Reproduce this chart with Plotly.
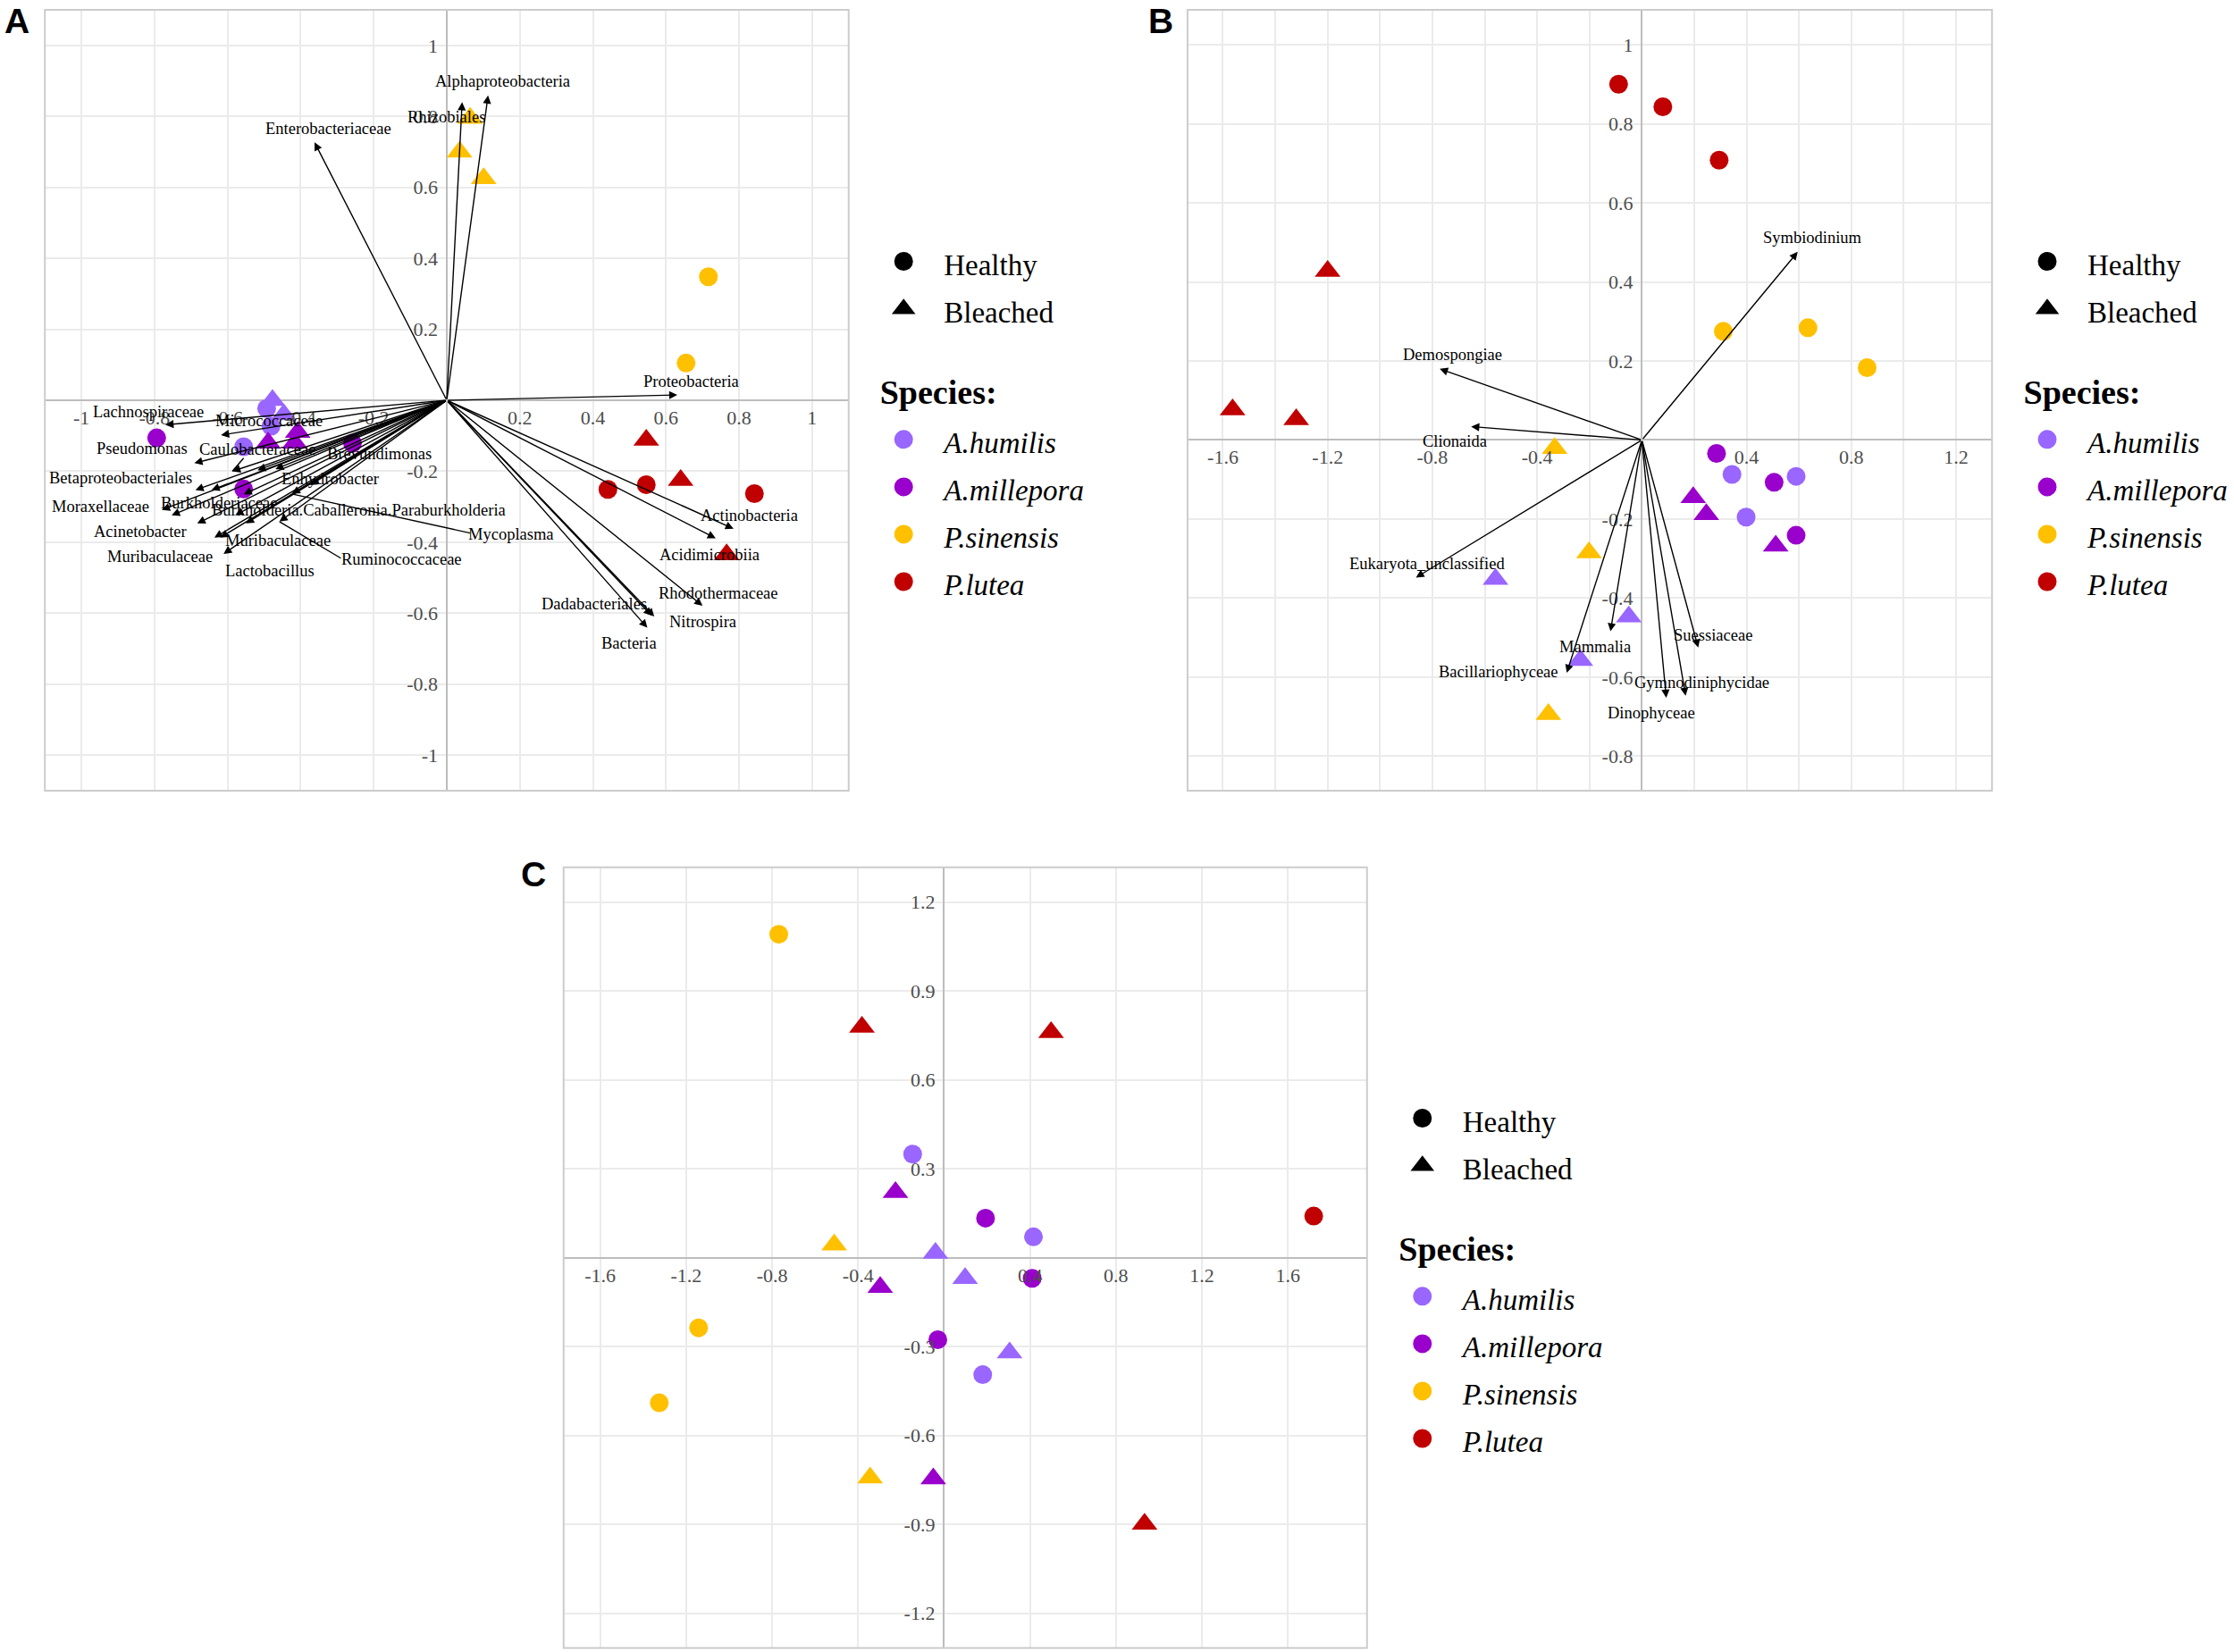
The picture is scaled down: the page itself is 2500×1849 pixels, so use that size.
import plotly.graph_objects as go

W, H = 2500, 1849

species_names = ["A.humilis", "A.millepora", "P.sinensis", "P.lutea"]
species_colors = ["#9966FF", "#9900CC", "#FFC000", "#C00000"]
status_names = ["Healthy", "Bleached"]
status_symbols = ["circle", "triangle-up"]

# ---------------- Panel A (bacteria) ----------------
A_species = ["A.humilis"] * 5 + ["A.millepora"] * 6 + ["P.sinensis"] * 5 + ["P.lutea"] * 6
A_status = (["Healthy"] * 3 + ["Bleached"] * 2 + ["Healthy"] * 3 + ["Bleached"] * 3 +
            ["Healthy"] * 2 + ["Bleached"] * 3 + ["Healthy"] * 3 + ["Bleached"] * 3)
A_x = [-0.493, -0.481, -0.556, -0.477, -0.446,
       -0.794, -0.258, -0.556, -0.408, -0.489, -0.416,
       0.716, 0.655, 0.064, 0.035, 0.101,
       0.441, 0.546, 0.842, 0.546, 0.640, 0.766]
A_y = [-0.023, -0.073, -0.131, 0.000, -0.040,
       -0.106, -0.121, -0.250, -0.090, -0.120, -0.120,
       0.348, 0.105, 0.795, 0.700, 0.625,
       -0.251, -0.238, -0.263, -0.112, -0.225, -0.435]

A_arrow_names = ["Proteobacteria", "Alphaproteobacteria", "Rhizobiales", "Enterobacteriaceae",
                 "Actinobacteria", "Acidimicrobiia", "Rhodothermaceae", "Nitrospira",
                 "Dadabacteriales", "Bacteria", "Lachnospiraceae", "Micrococcaceae",
                 "Pseudomonas", "Caulobacteraceae", "Brevundimonas", "Sphingomonadaceae",
                 "Betaproteobacteriales", "Moraxella", "Enhydrobacter", "Moraxellaceae",
                 "Burkholderiaceae", "Comamonadaceae",
                 "Burkholderia.Caballeronia.Paraburkholderia", "Acinetobacter",
                 "Lactobacillus", "Muribaculaceae", "Bacteroides", "Muribaculaceae",
                 "Ruminococcaceae", "Mycoplasma"]
A_arrow_x = [0.631, 0.113, 0.042, -0.362, 0.785, 0.736, 0.700, 0.568, 0.561, 0.549,
             -0.770, -0.618, -0.691, -0.587, -0.469, -0.518, -0.688, -0.644, -0.374,
             -0.780, -0.556, -0.753, -0.579, -0.683, -0.550, -0.636, -0.620, -0.611,
             -0.458, -0.424]
A_arrow_y = [0.015, 0.859, 0.840, 0.727, -0.362, -0.389, -0.579, -0.609, -0.607, -0.641,
             -0.069, -0.098, -0.177, -0.200, -0.194, -0.197, -0.253, -0.253, -0.239,
             -0.309, -0.265, -0.324, -0.324, -0.347, -0.347, -0.387, -0.387, -0.433,
             -0.342, -0.264]

A_label_text = ["Proteobacteria", "Alphaproteobacteria", "Rhizobiales", "Enterobacteriaceae",
                "Actinobacteria", "Acidimicrobiia", "Rhodothermaceae", "Nitrospira",
                "Dadabacteriales", "Bacteria", "Lachnospiraceae", "Micrococcaceae",
                "Pseudomonas", "Caulobacteraceae", "Brevundimonas", "Betaproteobacteriales",
                "Enhydrobacter", "Moraxellaceae", "Burkholderiaceae",
                "Burkholderia.Caballeronia.Paraburkholderia", "Acinetobacter",
                "Muribaculaceae", "Muribaculaceae", "Lactobacillus", "Ruminococcaceae",
                "Mycoplasma"]
A_label_x = [0.668, 0.153, 0.000, -0.325, 0.828, 0.720, 0.743, 0.700, 0.404, 0.500,
             -0.817, -0.486, -0.833, -0.519, -0.185, -0.892, -0.320, -0.948, -0.623,
             -0.242, -0.838, -0.462, -0.784, -0.485, -0.123, 0.176]
A_label_y = [0.054, 0.899, 0.798, 0.766, -0.324, -0.435, -0.543, -0.624, -0.574, -0.684,
             -0.032, -0.059, -0.137, -0.138, -0.152, -0.218, -0.222, -0.299, -0.289,
             -0.310, -0.370, -0.395, -0.440, -0.481, -0.447, -0.378]

# repel segments: label side -> arrow tip
A_seg_x0 = [-0.556, 0.064, -0.290]
A_seg_y0 = [-0.163, -0.374, -0.445]
A_seg_x1 = [-0.587, -0.424, -0.458]
A_seg_y1 = [-0.200, -0.264, -0.342]

A_xticks = [-1, -0.8, -0.6, -0.4, -0.2, 0.2, 0.4, 0.6, 0.8, 1]
A_xticktext = ["-1", "-0.8", "-0.6", "-0.4", "-0.2", "0.2", "0.4", "0.6", "0.8", "1"]
A_yticks = [-1, -0.8, -0.6, -0.4, -0.2, 0.2, 0.4, 0.6, 0.8, 1]
A_yticktext = ["-1", "-0.8", "-0.6", "-0.4", "-0.2", "0.2", "0.4", "0.6", "0.8", "1"]

# ---------------- Panel B (eukaryotes) ----------------
B_species = ["A.humilis"] * 6 + ["A.millepora"] * 6 + ["P.sinensis"] * 6 + ["P.lutea"] * 6
B_status = (["Healthy"] * 3 + ["Bleached"] * 3) * 4
B_x = [0.344, 0.589, 0.398, -0.559, -0.050, -0.235,
       0.285, 0.505, 0.589, 0.196, 0.246, 0.511,
       0.311, 0.634, 0.860, -0.333, -0.202, -0.357,
       -0.089, 0.080, 0.295, -1.200, -1.563, -1.320]
B_y = [-0.087, -0.092, -0.195, -0.352, -0.447, -0.557,
       -0.034, -0.107, -0.241, -0.145, -0.188, -0.268,
       0.275, 0.284, 0.183, -0.021, -0.285, -0.694,
       0.900, 0.843, 0.708, 0.427, 0.077, 0.052]

B_arrow_names = ["Symbiodinium", "Demospongiae", "Clionaida", "Eukaryota_unclassified",
                 "Mammalia", "Bacillariophyceae", "Suessiaceae", "Gymnodiniphycidae",
                 "Dinophyceae"]
B_arrow_x = [0.595, -0.772, -0.652, -0.863, -0.120, -0.287, 0.215, 0.167, 0.093]
B_arrow_y = [0.476, 0.180, 0.034, -0.348, -0.484, -0.589, -0.525, -0.647, -0.652]
B_label_x = [0.653, -0.722, -0.713, -0.820, -0.180, -0.548, 0.272, 0.228, 0.037]
B_label_y = [0.512, 0.215, -0.004, -0.313, -0.523, -0.586, -0.494, -0.614, -0.690]

B_xticks = [-1.6, -1.2, -0.8, -0.4, 0.4, 0.8, 1.2]
B_xticktext = ["-1.6", "-1.2", "-0.8", "-0.4", "0.4", "0.8", "1.2"]
B_xminor = [-1.4, -1.0, -0.6, -0.2, 0.2, 0.6, 1.0]
B_yticks = [-0.8, -0.6, -0.4, -0.2, 0.2, 0.4, 0.6, 0.8, 1]
B_yticktext = ["-0.8", "-0.6", "-0.4", "-0.2", "0.2", "0.4", "0.6", "0.8", "1"]

# ---------------- Panel C ----------------
C_species = ["A.humilis"] * 6 + ["A.millepora"] * 6 + ["P.sinensis"] * 5 + ["P.lutea"] * 4
C_status = ((["Healthy"] * 3 + ["Bleached"] * 3) * 2 +
            ["Healthy"] * 3 + ["Bleached"] * 2 + ["Healthy"] * 1 + ["Bleached"] * 3)
C_x = [-0.146, 0.416, 0.180, -0.040, 0.098, 0.305,
       0.193, 0.410, -0.029, -0.226, -0.297, -0.050,
       -0.769, -1.142, -1.325, -0.511, -0.344,
       1.720, -0.382, 0.498, 0.933]
C_y = [0.349, 0.070, -0.395, 0.015, -0.070, -0.321,
       0.133, -0.070, -0.277, 0.220, -0.100, -0.746,
       1.091, -0.237, -0.490, 0.043, -0.743,
       0.140, 0.778, 0.760, -0.899]

C_xticks = [-1.6, -1.2, -0.8, -0.4, 0.4, 0.8, 1.2, 1.6]
C_xticktext = ["-1.6", "-1.2", "-0.8", "-0.4", "0.4", "0.8", "1.2", "1.6"]
C_yticks = [-1.2, -0.9, -0.6, -0.3, 0.3, 0.6, 0.9, 1.2]
C_yticktext = ["-1.2", "-0.9", "-0.6", "-0.3", "0.3", "0.6", "0.9", "1.2"]

# ---------------- layout geometry ----------------
SERIF = "Liberation Serif"
GRID = "#EBEBEB"
ZERO = "#BDBDBD"
BORDER = "#CCCCCC"

panels = {
    "A": dict(xa="x", ya="y", xdom=[0.0201, 0.3802], ydom=[0.5214, 0.9940],
              xr=[-1.1, 1.1], yr=[-1.1, 1.1]),
    "B": dict(xa="x2", ya="y2", xdom=[0.5320, 0.8924], ydom=[0.5214, 0.9940],
              xr=[-1.735, 1.337], yr=[-0.887, 1.088]),
    "C": dict(xa="x3", ya="y3", xdom=[0.2525, 0.6124], ydom=[0.0025, 0.4750],
              xr=[-1.77, 1.968], yr=[-1.317, 1.317]),
}

fig = go.Figure()
legend_ids = {"A": "legend", "B": "legend2", "C": "legend3"}


def add_points(key, sp, st, xs, ys):
    p = panels[key]
    for s_i, s in enumerate(species_names):
        for t_i, t in enumerate(status_names):
            px = [x for x, a, b in zip(xs, sp, st) if a == s and b == t]
            py = [y for y, a, b in zip(ys, sp, st) if a == s and b == t]
            if not px:
                continue
            fig.add_trace(go.Scatter(
                x=px, y=py, mode="markers", xaxis=p["xa"], yaxis=p["ya"],
                marker=dict(symbol=status_symbols[t_i], color=species_colors[s_i],
                            size=21 if t_i == 0 else 25, line=dict(width=0)),
                showlegend=False, hoverinfo="skip"))
    # legend entries
    lg = legend_ids[key]
    for t_i, t in enumerate(status_names):
        fig.add_trace(go.Scatter(
            x=[None], y=[None], mode="markers", xaxis=p["xa"], yaxis=p["ya"],
            name='<span style="font-size:33px">' + t + '</span>',
            legend=lg, legendgroup=key + "status",
            marker=dict(symbol=status_symbols[t_i], color="black", size=16,
                        line=dict(width=5 if t_i == 0 else 4, color="black"))))
    for s_i, s in enumerate(species_names):
        fig.add_trace(go.Scatter(
            x=[None], y=[None], mode="markers", xaxis=p["xa"], yaxis=p["ya"],
            name='<span style="font-size:33px"><i>' + s + '</i></span>',
            legend=lg, legendgroup=key + "species",
            legendgrouptitle=dict(
                text='<span style="font-size:54px">\u00a0</span>'
                     '<span style="font-size:38px"><b>Species:</b></span>',
                font=dict(family=SERIF, size=44, color="black")),
            marker=dict(symbol="circle", color=species_colors[s_i], size=16,
                        line=dict(width=5, color=species_colors[s_i]))))


add_points("A", A_species, A_status, A_x, A_y)
add_points("B", B_species, B_status, B_x, B_y)
add_points("C", C_species, C_status, C_x, C_y)

annotations = []
shapes = []


def add_arrows(key, ax_, ay_):
    p = panels[key]
    for x, y in zip(ax_, ay_):
        annotations.append(dict(
            x=x, y=y, ax=0, ay=0, xref=p["xa"], yref=p["ya"], axref=p["xa"], ayref=p["ya"],
            text="", showarrow=True, arrowhead=2, arrowsize=1.3, arrowwidth=1.4,
            arrowcolor="black", standoff=0, startstandoff=0))


def add_labels(key, texts, lx, ly):
    p = panels[key]
    for t, x, y in zip(texts, lx, ly):
        annotations.append(dict(
            x=x, y=y, xref=p["xa"], yref=p["ya"], text=t, showarrow=False,
            font=dict(family=SERIF, size=18.5, color="black")))


add_arrows("A", A_arrow_x, A_arrow_y)
add_labels("A", A_label_text, A_label_x, A_label_y)
for x0, y0, x1, y1 in zip(A_seg_x0, A_seg_y0, A_seg_x1, A_seg_y1):
    shapes.append(dict(type="line", xref="x", yref="y", x0=x0, y0=y0, x1=x1, y1=y1,
                       line=dict(color="black", width=1.4), layer="above"))
add_arrows("B", B_arrow_x, B_arrow_y)
add_labels("B", B_arrow_names, B_label_x, B_label_y)

# panel borders
for key, p in panels.items():
    shapes.append(dict(type="rect", xref=p["xa"] + " domain", yref=p["ya"] + " domain",
                       x0=0, x1=1, y0=0, y1=1, line=dict(color=BORDER, width=2),
                       fillcolor="rgba(0,0,0,0)", layer="above"))

# panel letters (x centre, top edge in px)
for key, (lx, ly) in {"A": (19, 0), "B": (1300, 0), "C": (597, 955)}.items():
    annotations.append(dict(x=lx / W, y=1 - ly / H, xref="paper", yref="paper",
                            text="<b>" + key + "</b>", showarrow=False,
                            xanchor="center", yanchor="top",
                            font=dict(family="Liberation Sans", size=39, color="black")))


def zero_pos(rng, dom):
    return dom[0] + (0 - rng[0]) / (rng[1] - rng[0]) * (dom[1] - dom[0])


tickfont = dict(family=SERIF, size=22, color="#4D4D4D")
axis_ticks = {
    "A": (A_xticks, A_xticktext, None, A_yticks, A_yticktext),
    "B": (B_xticks, B_xticktext, B_xminor, B_yticks, B_yticktext),
    "C": (C_xticks, C_xticktext, None, C_yticks, C_yticktext),
}

layout_axes = {}
for i, (key, p) in enumerate(panels.items()):
    xt, xtt, xmin, yt, ytt = axis_ticks[key]
    xname = "xaxis" if i == 0 else "xaxis%d" % (i + 1)
    yname = "yaxis" if i == 0 else "yaxis%d" % (i + 1)
    xa = dict(domain=p["xdom"], range=p["xr"], anchor="free",
              position=zero_pos(p["yr"], p["ydom"]),
              tickmode="array", tickvals=xt, ticktext=xtt, tickfont=tickfont,
              showgrid=True, gridcolor=GRID, gridwidth=2,
              zeroline=True, zerolinecolor=ZERO, zerolinewidth=2,
              showline=False, ticks="", ticklabelstandoff=4, fixedrange=True)
    if xmin is not None:
        xa["minor"] = dict(tickmode="array", tickvals=xmin, showgrid=True,
                           gridcolor=GRID, gridwidth=2, ticks="")
    ya = dict(domain=p["ydom"], range=p["yr"], anchor="free",
              position=zero_pos(p["xr"], p["xdom"]),
              tickmode="array", tickvals=yt, ticktext=ytt, tickfont=tickfont,
              showgrid=True, gridcolor=GRID, gridwidth=2,
              zeroline=True, zerolinecolor=ZERO, zerolinewidth=2,
              showline=False, ticks="", ticklabelstandoff=10, fixedrange=True)
    layout_axes[xname] = xa
    layout_axes[yname] = ya

legend_common = dict(font=dict(family=SERIF, size=38.5, color="black"),
                     bgcolor="rgba(0,0,0,0)", itemsizing="trace", itemwidth=80,
                     tracegroupgap=33, traceorder="grouped",
                     xanchor="left", yanchor="top")
legend_pos = {"A": (967, 261), "B": (2248, 261), "C": (1548, 1220)}

fig.update_layout(
    width=W, height=H, margin=dict(l=0, r=0, t=0, b=0),
    paper_bgcolor="white", plot_bgcolor="white",
    annotations=annotations, shapes=shapes,
    legend=dict(x=legend_pos["A"][0] / W, y=1 - legend_pos["A"][1] / H, **legend_common),
    legend2=dict(x=legend_pos["B"][0] / W, y=1 - legend_pos["B"][1] / H, **legend_common),
    legend3=dict(x=legend_pos["C"][0] / W, y=1 - legend_pos["C"][1] / H, **legend_common),
    **layout_axes,
)

fig.write_html("out.html", config={"displayModeBar": False},
               post_script="document.body.style.margin='0px';")
